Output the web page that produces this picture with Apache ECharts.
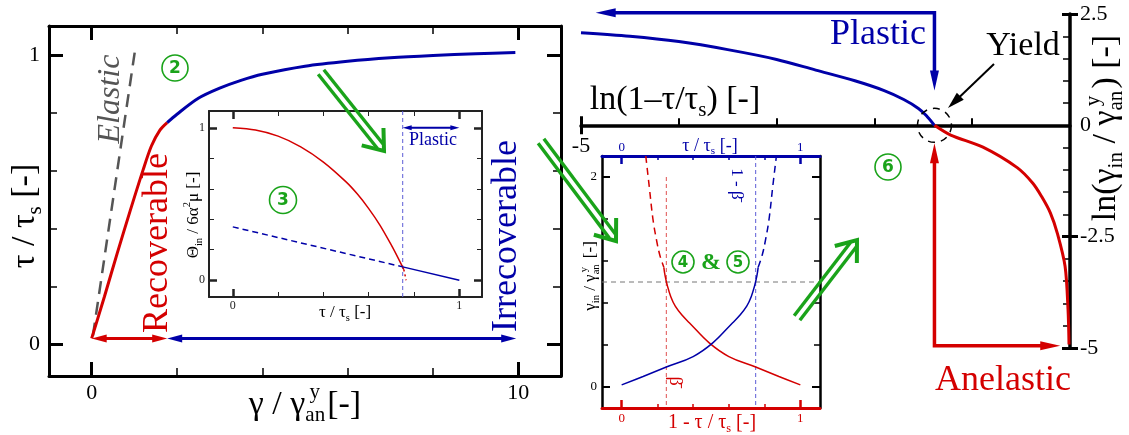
<!DOCTYPE html>
<html>
<head>
<meta charset="utf-8">
<script src="https://cdn.jsdelivr.net/npm/echarts@6/dist/echarts.min.js"></script>
<style>
  html, body { margin: 0; padding: 0; background: #fff; }
  #chart { width: 1129px; height: 435px; }
</style>
</head>
<body>
<div id="chart"></div>
<script>
const SERIF = '"Liberation Serif", "DejaVu Serif", serif';
const RED = '#d40000', BLUE = '#0000a8', GREEN = '#1aa31a', GREY = '#555555';

// (1) main panel: tau/tau_s against gamma/gamma_an^y
const recovGamma = [0, 0.3, 0.6, 0.9, 1.2, 1.4, 1.6, 1.77];
const recovTau = [0.02, 0.165, 0.315, 0.46, 0.6, 0.685, 0.74, 0.766];
const irrecGamma = [1.77, 2.0, 2.5, 3.0, 3.5, 4.0, 5.0, 6.0, 7.0, 8.0, 9.0, 9.93];
const irrecTau = [0.766, 0.795, 0.85, 0.885, 0.912, 0.933, 0.961, 0.978, 0.99, 0.998, 1.004, 1.008];
const elasticGamma = [0.03, 1.01];
const elasticTau = [0.03, 1.01];
const recovArrow = [[0, 0.02], [1.77, 0.02]];
const irrecArrow = [[1.77, 0.02], [9.95, 0.02]];
const gammaMajor = [0, 10], gammaMinor = [2, 4, 6, 8];
const tauMajor = [0, 1], tauMinor = [0.2, 0.4, 0.6, 0.8];

// (3) inset: Theta_in / 6 alpha^2 mu against tau/tau_s
const thetaTau = [0, 0.1, 0.2, 0.3, 0.4, 0.5, 0.55, 0.6, 0.65, 0.7, 0.73, 0.755];
const thetaRec = [1.0, 0.985, 0.945, 0.875, 0.775, 0.645, 0.565, 0.47, 0.36, 0.23, 0.145, 0.07];
const thetaTailTau = [0.755, 0.765];
const thetaTail = [0.07, 0.0];
const thetaIrrDashTau = [0, 0.75];
const thetaIrrDash = [0.35, 0.0875];
const thetaIrrTau = [0.75, 1.0];
const thetaIrr = [0.0875, 0.0];
const yieldTau = 0.75;
const plasticInsetArrow = [[0.75, 1.0], [1.0, 1.0]];
const unitMajor = [0, 1], unitMinor = [0.2, 0.4, 0.6, 0.8];

// (6) ln-ln panel
const plasticLnX = [-5.0, -4.5, -4.0, -3.5, -3.0, -2.6, -2.2, -1.9, -1.7, -1.55, -1.47, -1.386];
const plasticLnY = [2.08, 2.0, 1.88, 1.7, 1.48, 1.24, 1.0, 0.78, 0.58, 0.38, 0.22, 0.0];
const anelasticLnX = [-1.386, -1.22, -0.89, -0.54, -0.38, -0.29, -0.2, -0.13, -0.05, -0.02, -0.01];
const anelasticLnY = [0, -0.22, -0.49, -0.95, -1.3, -1.6, -1.97, -2.42, -3.17, -4.14, -4.92];
const yieldLn = [-1.386, 0];
const plasticL = [[-1.386, 0.78], [-1.386, 2.53], [-4.85, 2.53]];
const anelasticL = [[-1.386, -0.40], [-1.386, -4.95], [-0.10, -4.95]];
const lnXTicks = [-4, -3, -2, -1];
const lnXLabel = -5;
const lnYMajor = [-5, -2.5, 2.5];
const lnYMinor = [-4.5, -4, -3.5, -3, -2, -1.5, -1, -0.5, 0.5, 1, 1.5, 2];
const lnYLabels = [-5, -2.5, 0, 2.5];

// (4)&(5) inset: gamma_in/gamma_an^y against 1 - tau/tau_s (red) and tau/tau_s (blue)
const redSolidX = [0.236, 0.243, 0.255, 0.275, 0.3, 0.34, 0.38, 0.49, 0.6, 0.75, 0.88, 1.0];
const redSolidY = [1.14, 1.06, 0.97, 0.86, 0.77, 0.68, 0.61, 0.42, 0.29, 0.19, 0.1, 0.02];
const redDashX = [0.135, 0.155, 0.175, 0.195, 0.213, 0.236];
const redDashY = [2.2, 1.9, 1.6, 1.4, 1.26, 1.14];
const blueSolidX = [0.0, 0.12, 0.25, 0.4, 0.51, 0.62, 0.66, 0.7, 0.725, 0.745, 0.757, 0.764];
const blueSolidY = [0.02, 0.1, 0.19, 0.29, 0.42, 0.61, 0.68, 0.77, 0.86, 0.97, 1.06, 1.14];
const blueDashX = [0.764, 0.787, 0.805, 0.825, 0.845, 0.866];
const blueDashY = [1.14, 1.26, 1.4, 1.6, 1.9, 2.2];
const betaBar = 0.25, oneMinusBetaBar = 0.75, gammaYield = 1.0;
const gammaMajor2 = [0, 2], gammaMinor2 = [0.4, 0.8, 1.2, 1.6];

const chart = echarts.init(document.getElementById('chart'), null, { renderer: 'canvas' });

const xAxes = [], yAxes = [], mainAxis = [];

function sideAxes(g, pos, range, s) {
    const common = {
        gridIndex: g, type: 'value', position: pos, min: range[0], max: range[1],
        splitLine: { show: false }, axisPointer: { show: false }
    };
    const major = Object.assign({}, common, {
        axisLine: { show: true, onZero: false, lineStyle: { color: s.color, width: s.lineW } },
        axisTick: { show: true, inside: true, customValues: s.major, length: s.majLen, lineStyle: { color: s.color, width: s.majW } },
        axisLabel: s.labels
            ? { show: true, customValues: s.labels, margin: s.margin, color: s.color, fontFamily: SERIF, fontSize: s.fontSize }
            : { show: false }
    });
    const minor = Object.assign({}, common, {
        axisLine: { show: false, onZero: false },
        axisTick: { show: true, inside: true, customValues: s.minor, length: s.minLen, lineStyle: { color: s.color, width: s.minW } },
        axisLabel: { show: false }
    });
    return [major, minor];
}

function addBox(g, xr, yr, bottom, top, left, right) {
    mainAxis[g] = { x: xAxes.length, y: yAxes.length };
    xAxes.push(...sideAxes(g, 'bottom', xr, bottom));
    xAxes.push(...sideAxes(g, 'top', xr, top));
    yAxes.push(...sideAxes(g, 'left', yr, left));
    yAxes.push(...sideAxes(g, 'right', yr, right));
}

// grid 0: main panel
const s0x = { color: '#000', lineW: 3, major: gammaMajor, minor: gammaMinor, majLen: 14, majW: 3, minLen: 8, minW: 1.5, labels: gammaMajor, margin: 6, fontSize: 22 };
const s0y = { color: '#000', lineW: 3, major: tauMajor, minor: tauMinor, majLen: 14, majW: 3, minLen: 8, minW: 1.5, labels: tauMajor, margin: 9, fontSize: 22 };
addBox(0, [-1, 11], [-0.11, 1.1], s0x, Object.assign({}, s0x, { labels: null }), s0y, Object.assign({}, s0y, { labels: null }));

// grid 1: inset (3)
const s1 = { color: '#222', lineW: 2, major: unitMajor, minor: unitMinor, majLen: 8, majW: 2.5, minLen: 5, minW: 1, labels: unitMajor, margin: 4, fontSize: 12 };
addBox(1, [-0.105, 1.1], [-0.11, 1.11], Object.assign({}, s1, { margin: 3 }), Object.assign({}, s1, { labels: null }), s1, Object.assign({}, s1, { labels: null }));

// grid 2: ln-ln panel with crossing axes
mainAxis[2] = { x: xAxes.length, y: yAxes.length };
const g2y = yAxes.length;
const g2common = { gridIndex: 2, type: 'value', splitLine: { show: false }, axisPointer: { show: false } };
xAxes.push(Object.assign({}, g2common, {
    position: 'bottom', min: -5, max: 0,
    axisLine: { show: true, onZero: true, onZeroAxisIndex: g2y, lineStyle: { color: '#000', width: 3.5 } },
    axisTick: { show: true, inside: true, customValues: lnXTicks, length: 7, lineStyle: { color: '#000', width: 2 } },
    axisLabel: { show: false }
}));
[true, false].forEach(inside => xAxes.push(Object.assign({}, g2common, {
    position: 'bottom', min: -5, max: 0,
    axisLine: { show: false, onZero: true, onZeroAxisIndex: g2y },
    axisTick: { show: true, inside, customValues: [-5], length: 9, lineStyle: { color: '#000', width: 3 } },
    axisLabel: { show: false }
})));
yAxes.push(Object.assign({}, g2common, {
    position: 'right', min: -5, max: 2.5,
    axisLine: { show: true, onZero: false, lineStyle: { color: '#000', width: 3.5 } },
    axisTick: { show: true, inside: true, customValues: lnYMinor, length: 7, lineStyle: { color: '#000', width: 1.5 } },
    axisLabel: { show: true, customValues: lnYLabels, margin: 10, color: '#000', fontFamily: SERIF, fontSize: 22 }
}));
[true, false].forEach(inside => yAxes.push(Object.assign({}, g2common, {
    position: 'right', min: -5, max: 2.5,
    axisLine: { show: false, onZero: false },
    axisTick: { show: true, inside, customValues: lnYMajor, length: 8, lineStyle: { color: '#000', width: 3 } },
    axisLabel: { show: false }
})));

// grid 3: inset (4)&(5)
const s3b = { color: RED, lineW: 3, major: unitMajor, minor: unitMinor, majLen: 8, majW: 2.5, minLen: 4, minW: 1.5, labels: unitMajor, margin: 4, fontSize: 13 };
const s3t = Object.assign({}, s3b, { color: BLUE, margin: 2 });
const s3l = { color: '#000', lineW: 2.5, major: gammaMajor2, minor: gammaMinor2, majLen: 8, majW: 2, minLen: 6, minW: 1.5, labels: gammaMajor2, margin: 5, fontSize: 13 };
addBox(3, [-0.11, 1.11], [-0.2, 2.2], s3b, s3t, s3l, Object.assign({}, s3l, { labels: null }));

function zip(xs, ys) { return xs.map((x, i) => [x, ys[i]]); }
function line(g, data, color, width, type, smooth) {
    return {
        type: 'line', xAxisIndex: mainAxis[g].x, yAxisIndex: mainAxis[g].y, data,
        symbol: 'none', showSymbol: false, smooth: smooth || 0,
        clip: false, silent: true, animation: false, z: 3,
        lineStyle: { color, width, type: type || 'solid' }
    };
}

const series = [
    line(0, zip(elasticGamma, elasticTau), GREY, 2.5, [13, 8]),
    line(0, zip(recovGamma, recovTau), RED, 3, 'solid', 0.3),
    line(0, zip(irrecGamma, irrecTau), BLUE, 3, 'solid', 0.3),

    line(1, [[yieldTau, -0.11], [yieldTau, 1.11]], '#5c5cd6', 1, [4, 3]),
    line(1, zip(thetaTau, thetaRec), RED, 1.5, 'solid', 0.3),
    line(1, zip(thetaTailTau, thetaTail), RED, 1.5, [2, 3]),
    line(1, zip(thetaIrrDashTau, thetaIrrDash), BLUE, 1.5, [6, 4]),
    line(1, zip(thetaIrrTau, thetaIrr), BLUE, 1.5),

    line(2, zip(plasticLnX, plasticLnY), BLUE, 3, 'solid', 0.3),
    line(2, zip(anelasticLnX, anelasticLnY), RED, 3, 'solid', 0.3),

    line(3, [[-0.11, gammaYield], [1.11, gammaYield]], '#777', 1, [5, 4]),
    line(3, [[betaBar, 2.0], [betaBar, -0.2]], '#e05050', 1, [4, 3]),
    line(3, [[oneMinusBetaBar, 2.2], [oneMinusBetaBar, -0.2]], '#5c5cd6', 1, [4, 3]),
    line(3, zip(redDashX, redDashY), RED, 1.5, [7, 5], 0.4),
    line(3, zip(redSolidX, redSolidY), RED, 1.5, 'solid', 0.4),
    line(3, zip(blueDashX, blueDashY), BLUE, 1.5, [7, 5], 0.4),
    line(3, zip(blueSolidX, blueSolidY), BLUE, 1.5, 'solid', 0.4)
];

chart.setOption({
    animation: false,
    backgroundColor: '#fff',
    textStyle: { fontFamily: SERIF },
    grid: [
        { left: 49, top: 26, width: 512, height: 350, outerBoundsMode: 'none' },
        { left: 209, top: 111, width: 273, height: 186, outerBoundsMode: 'none' },
        { left: 581, top: 14, width: 489, height: 334, outerBoundsMode: 'none' },
        { left: 602, top: 156, width: 218, height: 252, outerBoundsMode: 'none' }
    ],
    xAxis: xAxes,
    yAxis: yAxes,
    series
});

// ---------- annotations ----------
const mctx = document.createElement('canvas').getContext('2d');
function textWidth(s, size) { mctx.font = size + 'px ' + SERIF; return mctx.measureText(s).width; }
function tx(t, x, y, size, color, extra) {
    return {
        type: 'text', z: 100,
        style: Object.assign({ text: t, x, y, fill: color, font: size + 'px ' + SERIF,
            align: 'left', verticalAlign: 'middle', textAlign: 'left', textVerticalAlign: 'middle' }, extra || {})
    };
}
function formula(parts, size, color, cx, cy, rotation) {
    const kids = [];
    const small = size * 0.62;
    let x = 0;
    parts.forEach(([t, kind]) => {
        if (!kind) { kids.push(tx(t, x, 0, size, color)); x += textWidth(t, size); }
        else if (kind === 'sub') { kids.push(tx(t, x, size * 0.3, small, color)); x += textWidth(t, small); }
        else if (kind === 'sup') { kids.push(tx(t, x, -size * 0.38, small, color)); x += textWidth(t, small); }
        else {
            kids.push(tx(t[0], x, size * 0.3, small, color));
            kids.push(tx(t[1], x + small * 0.2, -size * 0.38, small, color));
            x += textWidth(t[0], small) + 2;
        }
    });
    kids.forEach(k => { k.style.x -= x / 2; });
    return { type: 'group', x: cx, y: cy, rotation: rotation || 0, z: 100, children: kids };
}
function label(t, cx, cy, size, color, rotation, style) {
    return {
        type: 'text', x: cx, y: cy, rotation: rotation || 0, z: 100,
        style: { text: t, fill: color, font: (style || '') + ' ' + size + 'px ' + SERIF,
            align: 'center', verticalAlign: 'middle', textAlign: 'center', textVerticalAlign: 'middle' }
    };
}
function circled(n, cx, cy, r, size) {
    return [
        { type: 'circle', z: 100, shape: { cx, cy, r }, style: { fill: 'transparent', stroke: GREEN, lineWidth: 1.6 } },
        { type: 'text', x: cx, y: cy + 1, z: 100, style: { text: n, fill: GREEN, font: 'bold ' + size + 'px "DejaVu Sans"',
            align: 'center', verticalAlign: 'middle', textAlign: 'center', textVerticalAlign: 'middle' } }
    ];
}
function head(tip, from, len, half, color) {
    const L = Math.hypot(tip[0] - from[0], tip[1] - from[1]);
    const ux = (tip[0] - from[0]) / L, uy = (tip[1] - from[1]) / L;
    const bx = tip[0] - ux * len, by = tip[1] - uy * len;
    return { type: 'polygon', z: 101, shape: { points: [tip, [bx - uy * half, by + ux * half], [bx + uy * half, by - ux * half]] },
        style: { fill: color, stroke: null } };
}
function arrowPath(pts, color, width, len, half, startHead, endHead) {
    const p = pts.slice();
    const els = [];
    if (endHead) els.push(head(pts[pts.length - 1], pts[pts.length - 2], len, half, color));
    if (startHead) els.push(head(pts[0], pts[1], len, half, color));
    const trim = (a, b) => { const L = Math.hypot(a[0] - b[0], a[1] - b[1]); const k = (len * 0.6) / L; return [a[0] + (b[0] - a[0]) * k, a[1] + (b[1] - a[1]) * k]; };
    if (endHead) p[p.length - 1] = trim(pts[pts.length - 1], pts[pts.length - 2]);
    if (startHead) p[0] = trim(pts[0], pts[1]);
    els.unshift({ type: 'polyline', z: 100, shape: { points: p }, style: { stroke: color, lineWidth: width, fill: null } });
    return els;
}
function doubleArrow(x0, y0, x1, y1) {
    const L = Math.hypot(x1 - x0, y1 - y0), ux = (x1 - x0) / L, uy = (y1 - y0) / L, nx = -uy, ny = ux;
    const off = 3.6, back = 6, a = 0.65, len = 23;
    const els = [];
    [off, -off].forEach(o => els.push({ type: 'line', z: 100,
        shape: { x1: x0 + nx * o, y1: y0 + ny * o, x2: x1 - ux * back + nx * o, y2: y1 - uy * back + ny * o },
        style: { stroke: GREEN, lineWidth: 3.4 } }));
    const arm = s => {
        const c = Math.cos(s * a), sn = Math.sin(s * a);
        return [x1 + len * (-ux * c + uy * sn), y1 + len * (-ux * sn - uy * c)];
    };
    els.push({ type: 'polyline', z: 100, shape: { points: [arm(1), [x1, y1], arm(-1)] }, style: { stroke: GREEN, lineWidth: 4, fill: null } });
    return els;
}
const px = (g, pt) => chart.convertToPixel({ xAxisIndex: mainAxis[g].x, yAxisIndex: mainAxis[g].y }, pt);

const yieldPx = px(2, yieldLn);
const lnLabelPx = px(2, [lnXLabel, 0]);
const graphics = [
    // axis titles
    formula([['τ / τ'], ['s', 'sub'], [' [-]']], 34, '#000', 25, 216, Math.PI / 2),
    formula([['γ / γ'], [['an', 'y'], 'subsup'], ['[-]']], 34, '#000', 305, 405),
    formula([['τ / τ'], ['s', 'sub'], [' [-]']], 17, '#000', 345, 313),
    formula([['Θ'], ['in', 'sub'], [' / 6α'], ['2', 'sup'], ['μ [-]']], 17, '#000', 194, 215, Math.PI / 2),
    formula([['ln(1–τ/τ'], ['s', 'sub'], [') [-]']], 34, '#000', 675, 100),
    formula([['ln(γ'], ['in', 'sub'], [' / γ'], [['an', 'y'], 'subsup'], [') [-]']], 34, '#000', 1106, 128, Math.PI / 2),
    formula([['τ / τ'], ['s', 'sub'], [' [-]']], 18, BLUE, 710, 146),
    formula([['1 - τ / τ'], ['s', 'sub'], [' [-]']], 20, RED, 712, 423),
    formula([['γ'], ['in', 'sub'], [' / γ'], [['an', 'y'], 'subsup'], [' [-]']], 17, '#000', 591, 276, Math.PI / 2),
    // x tick label of the ln-ln axis, which sits on the zero line
    label(String(lnXLabel), lnLabelPx[0], lnLabelPx[1] + 21, 22, '#000'),
    // in-plot labels
    label('Elastic', 111, 99, 32, GREY, Math.PI / 2, 'italic'),
    label('Recoverable', 158, 243, 36, RED, Math.PI / 2),
    label('Irrecoverable', 507, 236, 36, BLUE, Math.PI / 2),
    label('Plastic', 433, 140, 18, BLUE),
    label('Plastic', 878, 35, 36, BLUE),
    label('Anelastic', 1003, 381, 36, RED),
    label('Yield', 1023, 46, 34, '#000'),
    label('β̄', 675, 381, 18, RED, -Math.PI / 2),
    label('1 - β̄', 736, 184, 17, BLUE, -Math.PI / 2),
    label('&', 711, 263, 24, GREEN, 0, 'bold'),
    ...circled('2', 175, 68, 13, 17),
    ...circled('3', 283, 200, 13.5, 17),
    ...circled('4', 683, 262, 11, 15),
    ...circled('5', 738, 262, 11, 15),
    ...circled('6', 888, 167, 13, 17),
    // arrows
    ...arrowPath(recovArrow.map(p => px(0, p)), RED, 3, 15, 4, true, true),
    ...arrowPath(irrecArrow.map(p => px(0, p)), BLUE, 3, 15, 4, true, true),
    ...arrowPath(plasticInsetArrow.map(p => px(1, p)), BLUE, 2, 9, 2.5, true, true),
    ...arrowPath(plasticL.map(p => px(2, p)), BLUE, 3.5, 20, 4.5, true, true),
    ...arrowPath(anelasticL.map(p => px(2, p)), RED, 3.5, 20, 4.5, true, true),
    ...arrowPath([[994, 64], [948, 108]], '#000', 2, 17, 5, false, true),
    { type: 'circle', z: 100, shape: { cx: yieldPx[0], cy: yieldPx[1], r: 17 },
        style: { fill: 'transparent', stroke: '#000', lineWidth: 1.5, lineDash: [7, 6] } },
    ...doubleArrow(321, 72, 384, 151),
    ...doubleArrow(541, 141, 616, 241),
    ...doubleArrow(797, 318, 857, 240)
];
chart.setOption({ graphic: graphics });
</script>
</body>
</html>
